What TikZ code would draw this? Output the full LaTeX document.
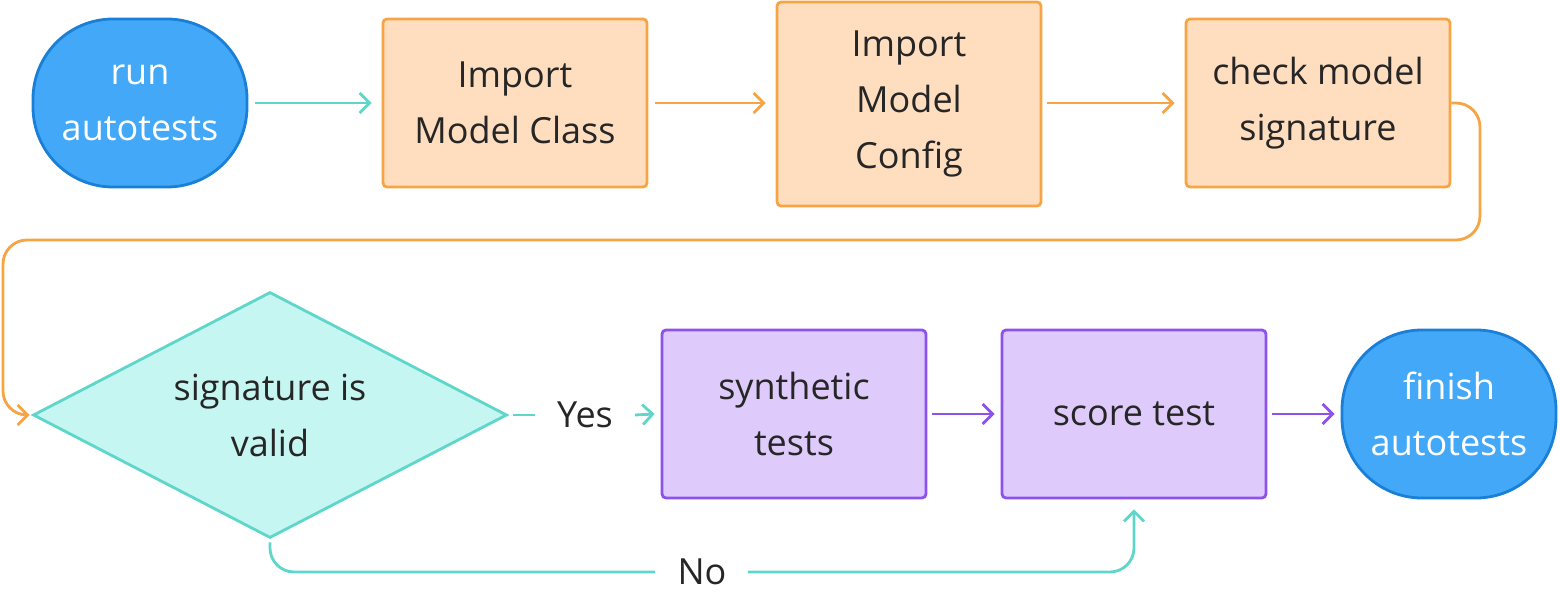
\documentclass[tikz,border=0pt]{standalone}
\usepackage{fontspec}
\setmainfont{Open Sans}
\usetikzlibrary{shapes.geometric,arrows.meta}
\definecolor{bluef}{HTML}{42A8F7}\definecolor{blued}{HTML}{1A7FD6}
\definecolor{orf}{HTML}{FFDEC0}\definecolor{ord}{HTML}{F7A445}
\definecolor{tef}{HTML}{C6F6F1}\definecolor{ted}{HTML}{5ED6CA}
\definecolor{puf}{HTML}{DECBFB}\definecolor{pud}{HTML}{8D52EC}
\begin{document}
\begin{tikzpicture}[x=0.5pt,y=-0.5pt,
  every node/.style={font=\fontsize{18}{28}\selectfont,text=black!85,align=center},
  term/.style={draw=blued,fill=bluef,line width=1.4pt,rounded corners=40pt,minimum width=107pt,minimum height=84pt,text=white},
  orb/.style={draw=ord,fill=orf,line width=1.4pt,rounded corners=2pt,minimum width=132pt,minimum height=84pt},
  pub/.style={draw=pud,fill=puf,line width=1.4pt,rounded corners=2pt,minimum width=132pt,minimum height=84pt},
  arr/.style={line width=1.4pt,-{Straight Barb[length=5pt,width=10pt]}}]
\useasboundingbox (0,0) rectangle (1560,609);
\node[term] (run) at (140,103) {run\\autotests};
\node[orb] (imc) at (515,103) {Import\\Model Class};
\node[orb,minimum height=102pt] (imf) at (909,104) {Import\\Model\\Config};
\node[orb] (chk) at (1318,103) {check model\\signature};
\node[diamond,draw=ted,fill=tef,line width=1.4pt,minimum width=237pt,minimum height=123pt,inner sep=0pt,aspect=1.93] (sig) at (270,415) {signature is\\valid};
\node[pub] (syn) at (794,414) {synthetic\\tests};
\node[pub] (sco) at (1134,414) {score test};
\node[term] (fin) at (1449,414) {finish\\autotests};
\draw[arr,ted] (run.east) ++(7,0) -- ([xshift=-5pt]imc.west);
\draw[arr,ord] (imc.east) ++(7,0) -- ([xshift=-5pt]imf.west|-imc.east);
\draw[arr,ord] (imf.east|-chk.west) ++(5,0) -- ([xshift=-5pt]chk.west);
\draw[arr,ord,rounded corners=12pt] (chk.east) -- (1480,103) -- (1480,240) -- (3,240) -- (3,415) -- ([xshift=-1pt]sig.west);
\draw[ted,line width=1.4pt] (sig.east) ++(5,0) -- (535,415);
\node (yes) at (585,415) {Yes};
\draw[arr,ted] (635,415) -- ([xshift=-3pt]syn.west);
\draw[arr,pud] (syn.east) ++(5,0) -- ([xshift=-3pt]sco.west);
\draw[arr,pud] (sco.east) ++(5,0) -- ([xshift=-3pt]fin.west);
\node (no) at (702,572) {No};
\draw[ted,line width=1.4pt,rounded corners=12pt] (sig.south) ++(0,3) -- (270,572) -- (655,572);
\draw[arr,ted,rounded corners=12pt] (748,572) -- (1134,572) -- ([yshift=-5pt]sco.south);
\end{tikzpicture}
\end{document}
